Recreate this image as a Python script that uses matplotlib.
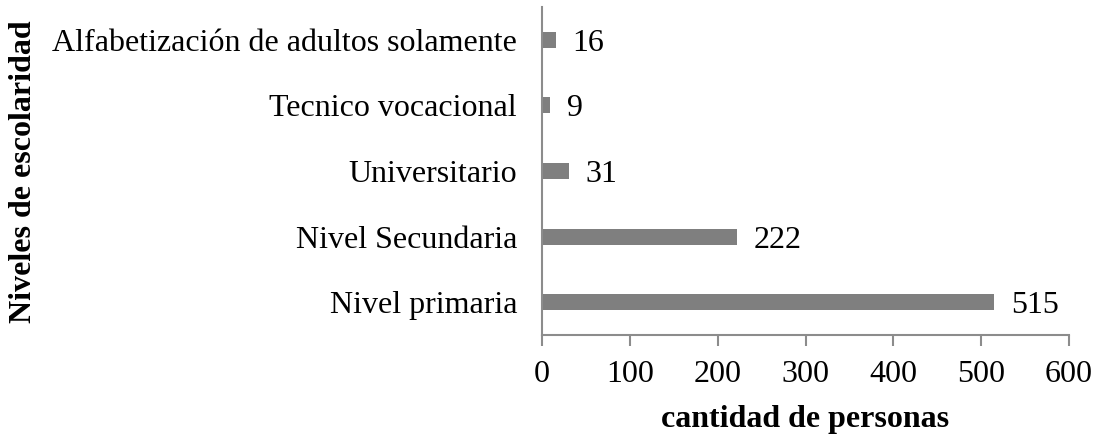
import matplotlib
matplotlib.use("Agg")
import matplotlib.pyplot as plt

# Data
categorias = ["Nivel primaria", "Nivel Secundaria", "Universitario",
              "Tecnico vocacional", "Alfabetización de adultos solamente"]
personas = [515, 222, 31, 9, 16]
xticks = [0, 100, 200, 300, 400, 500, 600]

plt.rcParams["font.family"] = ["Liberation Serif", "DejaVu Serif"]

gris = "#7f7f7f"
eje = "#8c8c8c"
fs = 23

W, H = 1099, 437
fig = plt.figure(figsize=(W / 100, H / 100), dpi=100)
ax = fig.add_axes([542 / W, 1 - 335 / H, (1069 - 542) / W, (335 - 7) / H])

pos = range(len(categorias))
ax.barh(pos, personas, height=0.245, color=gris)

for y, v in zip(pos, personas):
    ax.annotate(str(v), (v, y), xytext=(12, 0), textcoords="offset points",
                va="center_baseline", ha="left", fontsize=fs)

ax.set_xlim(0, 600)
ax.set_ylim(-0.5, len(categorias) - 0.5)
ax.set_xticks(xticks)
ax.set_xticklabels([str(t) for t in xticks], fontsize=fs)
ax.set_yticks(list(pos))
ax.set_yticklabels(categorias, fontsize=fs)

for s in ["top", "right"]:
    ax.spines[s].set_visible(False)
for s in ["left", "bottom"]:
    ax.spines[s].set_color(eje)
    ax.spines[s].set_linewidth(1.5)

ax.tick_params(axis="x", direction="out", length=8, width=1.5, color=eje, pad=10)
ax.tick_params(axis="y", length=0, pad=18)

# axis titles
fig.text(805 / W, 1 - 419 / H, "cantidad de personas", fontsize=fs,
         fontweight="bold", ha="center", va="center")
fig.text(24 / W, 1 - 172 / H, "Niveles de escolaridad", fontsize=fs,
         fontweight="bold", ha="center", va="center", rotation=90)

fig.savefig("out.png", dpi=100)
